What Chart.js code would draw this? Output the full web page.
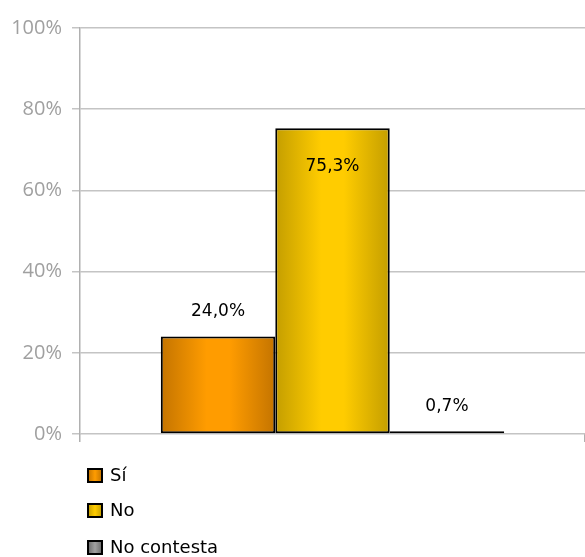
<!DOCTYPE html>
<html>
<head>
<meta charset="utf-8">
<script src="https://cdn.jsdelivr.net/npm/chart.js@4/dist/chart.umd.min.js"></script>
<style>
  html, body { margin: 0; padding: 0; background: #fff; }
  #wrap { width: 585px; height: 557px; }
</style>
</head>
<body>
<div id="wrap"><canvas id="myChart" width="585" height="557"></canvas></div>
<script>
// datos del gráfico
const categories = [''];
const seriesNames = ['Sí', 'No', 'No contesta'];
const siValues = [24.0];
const noValues = [75.3];
const nsValues = [0.7];
const yTicks = [0, 20, 40, 60, 80, 100];

// colores de las barras: borde oscuro, centro claro
const barShades = [
  ['#c47400', '#ff9c00'],
  ['#c49e00', '#ffcc00'],
  ['#6a6a6a', '#a0a0a0']
];
const catPct = 0.68;

function gradFor(dsIndex) {
  return (ctx) => {
    const chart = ctx.chart;
    const area = chart.chartArea;
    const [dark, light] = barShades[dsIndex];
    if (!area) return light;
    const xs = chart.scales.x;
    const groupW = area.width * catPct; // ancho del grupo de barras
    const left = xs.getPixelForValue(0) - groupW / 2 + dsIndex * groupW / 3;
    const g = chart.ctx.createLinearGradient(left, 0, left + groupW / 3, 0);
    g.addColorStop(0, dark);
    g.addColorStop(0.4, light);
    g.addColorStop(0.6, light);
    g.addColorStop(1, dark);
    return g;
  };
}

// etiquetas de valor sobre/dentro de las barras
const valueLabels = {
  id: 'valueLabels',
  afterDatasetsDraw(chart) {
    const c = chart.ctx;
    c.save();
    c.font = '17px "DejaVu Sans"';
    c.fillStyle = '#000';
    c.textAlign = 'center';
    c.textBaseline = 'middle';
    chart.data.datasets.forEach((ds, i) => {
      const el = chart.getDatasetMeta(i).data[0];
      const v = ds.data[0];
      const txt = v.toFixed(1).replace('.', ',') + '%';
      const y = v > 50 ? el.y + 38 : el.y - 25;
      c.fillText(txt, el.x, y);
    });
    c.restore();
  }
};

// leyenda vertical abajo a la izquierda
const sideLegend = {
  id: 'sideLegend',
  afterDraw(chart) {
    const c = chart.ctx;
    c.save();
    c.font = '18px "DejaVu Sans"';
    c.textBaseline = 'middle';
    c.textAlign = 'left';
    const rows = [475.5, 510.5, 547.5];
    chart.data.datasets.forEach((ds, i) => {
      const y = rows[i];
      const [dark, light] = barShades[i];
      const g = c.createLinearGradient(88, 0, 102, 0);
      g.addColorStop(0, dark);
      g.addColorStop(0.5, light);
      g.addColorStop(1, dark);
      c.fillStyle = g;
      c.fillRect(88, y - 6.5, 14, 13);
      c.lineWidth = 2;
      c.strokeStyle = '#000';
      c.strokeRect(88, y - 6.5, 14, 13);
      c.fillStyle = '#000';
      c.fillText(ds.label, 110, y + 1);
    });
    c.restore();
  }
};

const ctx = document.getElementById('myChart').getContext('2d');
const chart = new Chart(ctx, {
  type: 'bar',
  data: {
    labels: categories,
    datasets: [
      { label: seriesNames[0], data: siValues, backgroundColor: gradFor(0) },
      { label: seriesNames[1], data: noValues, backgroundColor: gradFor(1) },
      { label: seriesNames[2], data: nsValues, backgroundColor: gradFor(2) }
    ]
  },
  options: {
    responsive: false,
    animation: false,
    layout: { padding: { top: 28, right: -5, bottom: 0, left: 0 } },
    datasets: {
      bar: {
        categoryPercentage: catPct,
        barPercentage: 1,
        borderColor: '#000',
        borderWidth: 2,
        borderSkipped: false
      }
    },
    plugins: {
      legend: { display: false },
      tooltip: { enabled: false }
    },
    scales: {
      x: {
        ticks: { display: false },
        grid: {
          display: true,
          drawOnChartArea: false,
          drawTicks: true,
          tickLength: 8,
          color: '#b0b0b0',
          lineWidth: 1.5
        },
        border: { display: false },
        afterFit(scale) { scale.height = 123; }
      },
      y: {
        min: yTicks[0],
        max: yTicks[yTicks.length - 1],
        afterBuildTicks(scale) { scale.ticks = yTicks.map(v => ({ value: v })); },
        ticks: {
          padding: 10,
          color: '#a0a0a0',
          font: { family: '"Open Sans"', size: 20 },
          callback: (v) => v + '%'
        },
        grid: {
          color: '#c4c4c4',
          lineWidth: 1.5,
          tickLength: 8
        },
        border: { display: true, color: '#b0b0b0', width: 1.5 },
        afterFit(scale) { scale.width = 80; }
      }
    }
  },
  plugins: [valueLabels, sideLegend]
});
</script>
</body>
</html>
